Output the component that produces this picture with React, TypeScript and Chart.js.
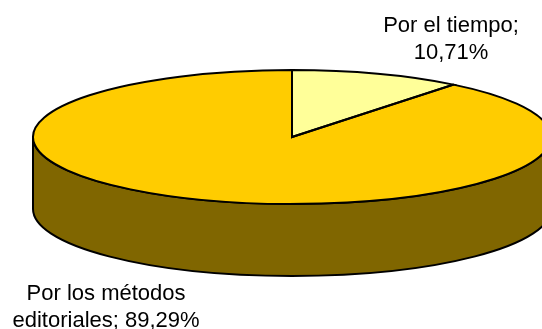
import React, { useEffect, useRef } from 'react';
import { Chart, registerables } from 'chart.js';

Chart.register(...registerables);

// ---- data ----
const categories = ['Por el tiempo', 'Por los métodos editoriales'];
const values = [10.71, 89.29];
const topColors = ['#FFFF99', '#FFCC00'];
const sideColors = ['#80804D', '#806600'];

// ---- style ----
const CANVAS_W = 542;
const CANVAS_H = 329;
const PIE_RADIUS = 259;
const TILT = 67 / 259; // vertical squash of the top face
const DEPTH_RATIO = 72 / 259; // wall height relative to radius
const OUTLINE = '#000000';
const OUTLINE_W = 2;
const FONT = '22px "Liberation Sans", Arial, sans-serif';
const LINE_H = 26.7;
const WRAP_W = 195;
// label anchors (fraction of radius from centre, and extra offset)
const labelAnchors = [
  { fx: 0.614, above: true, dy: 37.7 },
  { fx: -0.718, above: false, dy: 24 },
];

const fmtPct = (v: number) => v.toFixed(2).replace('.', ',') + '%';

function frontSegments(a0: number, a1: number): [number, number][] {
  const segs: [number, number][] = [];
  for (let k = -2; k <= 2; k++) {
    const off = k * 2 * Math.PI;
    const s = Math.max(a0, off);
    const e = Math.min(a1, off + Math.PI);
    if (e > s) segs.push([s - off, e - off]);
  }
  return segs;
}

function wrap(ctx: CanvasRenderingContext2D, text: string, maxW: number): string[] {
  const words = text.split(' ');
  const lines: string[] = [];
  let cur = '';
  for (const w of words) {
    const test = cur ? cur + ' ' + w : w;
    if (cur && ctx.measureText(test).width > maxW) {
      lines.push(cur);
      cur = w;
    } else cur = test;
  }
  if (cur) lines.push(cur);
  return lines;
}

const pie3d = {
  id: 'pie3d',
  beforeDatasetsDraw(chart: any) {
    const ctx: CanvasRenderingContext2D = chart.ctx;
    const meta = chart.getDatasetMeta(0);
    const arcs = meta.data;
    if (!arcs.length) return;
    const { x, y, outerRadius } = arcs[0].getProps(['x', 'y', 'outerRadius'], true);
    const ry = outerRadius * TILT;
    const depth = outerRadius * DEPTH_RATIO;
    // side walls
    arcs.forEach((arc: any, i: number) => {
      const { startAngle, endAngle } = arc.getProps(['startAngle', 'endAngle'], true);
      frontSegments(startAngle, endAngle).forEach(([s, e]) => {
        ctx.save();
        ctx.beginPath();
        ctx.ellipse(x, y, outerRadius, ry, 0, s, e, false);
        ctx.lineTo(x + outerRadius * Math.cos(e), y + ry * Math.sin(e) + depth);
        ctx.ellipse(x, y + depth, outerRadius, ry, 0, e, s, true);
        ctx.closePath();
        ctx.fillStyle = sideColors[i];
        ctx.fill();
        ctx.lineWidth = OUTLINE_W;
        ctx.strokeStyle = OUTLINE;
        ctx.lineJoin = 'round';
        ctx.stroke();
        ctx.restore();
      });
    });
    // squash the top face
    ctx.save();
    ctx.translate(0, y);
    ctx.scale(1, TILT);
    ctx.translate(0, -y);
  },
  afterDatasetsDraw(chart: any) {
    const ctx: CanvasRenderingContext2D = chart.ctx;
    ctx.restore();
    const meta = chart.getDatasetMeta(0);
    const arcs = meta.data;
    if (!arcs.length) return;
    arcs.forEach((arc: any) => {
      const { x, y, outerRadius, startAngle, endAngle } = arc.getProps(
        ['x', 'y', 'outerRadius', 'startAngle', 'endAngle'],
        true
      );
      const ry = outerRadius * TILT;
      ctx.save();
      ctx.beginPath();
      ctx.moveTo(x, y);
      ctx.ellipse(x, y, outerRadius, ry, 0, startAngle, endAngle, false);
      ctx.closePath();
      ctx.lineWidth = OUTLINE_W;
      ctx.strokeStyle = OUTLINE;
      ctx.lineJoin = 'miter';
      ctx.stroke();
      ctx.restore();
    });
  },
  afterDraw(chart: any) {
    const ctx: CanvasRenderingContext2D = chart.ctx;
    const meta = chart.getDatasetMeta(0);
    const arcs = meta.data;
    if (!arcs.length) return;
    const { x, y, outerRadius } = arcs[0].getProps(['x', 'y', 'outerRadius'], true);
    const ry = outerRadius * TILT;
    const depth = outerRadius * DEPTH_RATIO;
    ctx.save();
    ctx.font = FONT;
    ctx.fillStyle = '#000000';
    ctx.textAlign = 'center';
    ctx.textBaseline = 'alphabetic';
    categories.forEach((cat, i) => {
      const a = labelAnchors[i];
      const lines = wrap(ctx, `${cat}; ${fmtPct(values[i])}`, WRAP_W);
      const lx = x + a.fx * outerRadius;
      const firstBase = a.above
        ? y - ry - a.dy - (lines.length - 2) * LINE_H
        : y + ry + depth + a.dy;
      lines.forEach((ln, j) => {
        ctx.fillText(ln, lx, firstBase + j * LINE_H);
      });
    });
    ctx.restore();
  },
};

export default function App() {
  const ref = useRef<HTMLCanvasElement>(null);
  useEffect(() => {
    document.body.style.margin = '0';
    const canvas = ref.current;
    if (!canvas) return;
    const chart = new Chart(canvas, {
      type: 'pie',
      data: {
        labels: categories,
        datasets: [
          {
            data: values,
            backgroundColor: topColors,
            borderWidth: 0,
            radius: PIE_RADIUS,
            clip: false,
          } as any,
        ],
      },
      options: {
        responsive: false,
        animation: false,
        events: [],
        layout: { padding: { left: 42, right: 0, top: 0, bottom: 55 } },
        plugins: {
          legend: { display: false },
          tooltip: { enabled: false },
        },
      },
      plugins: [pie3d],
    });
    return () => chart.destroy();
  }, []);
  return (
    <div style={{ width: CANVAS_W, height: CANVAS_H, overflow: 'hidden', background: '#fff' }}>
      <canvas ref={ref} width={CANVAS_W} height={CANVAS_H} style={{ display: 'block' }} />
    </div>
  );
}
